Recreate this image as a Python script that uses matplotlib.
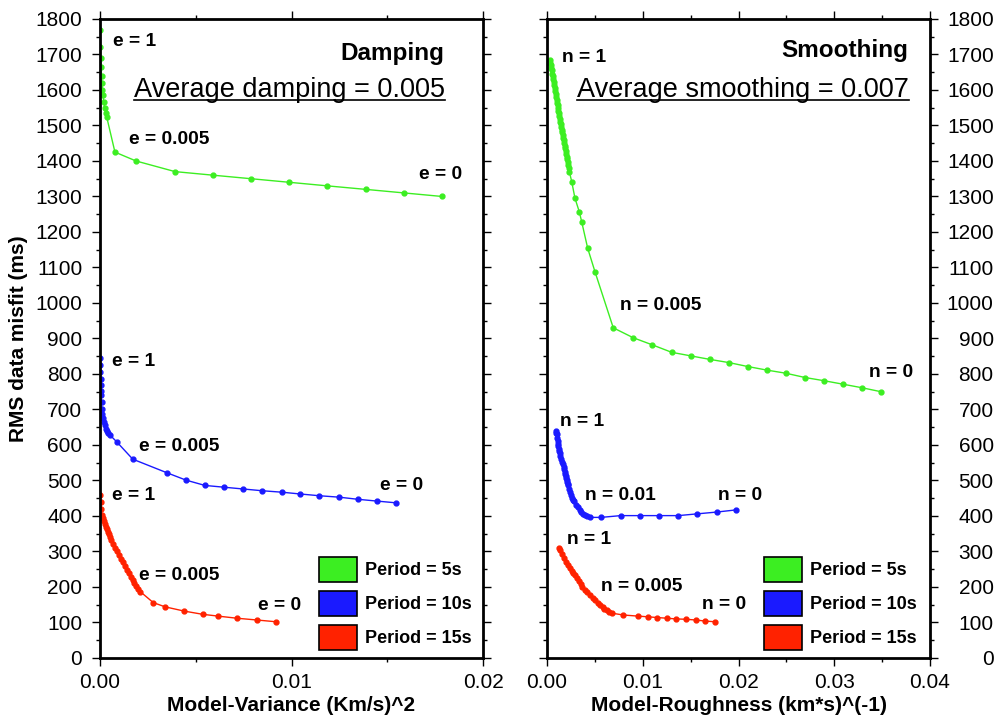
import matplotlib
matplotlib.use('Agg')
import matplotlib.pyplot as plt
from matplotlib.patches import Patch
from matplotlib.lines import Line2D
from matplotlib.ticker import MultipleLocator, FormatStrFormatter

plt.rcParams['font.family'] = ['Liberation Sans', 'DejaVu Sans']

# --- damping trade-off curves (model variance vs RMS misfit) ---
damp_5s_x = [0.0, 0.00002, 0.00004, 0.00006, 0.00008, 0.0001, 0.00013, 0.00016, 0.0002,
             0.00025, 0.0003, 0.00035, 0.00078, 0.00188, 0.00392, 0.00589, 0.00789,
             0.00987, 0.01185, 0.01387, 0.01587, 0.01786]
damp_5s_y = [1770, 1720, 1690, 1665, 1640, 1620, 1600, 1585, 1565, 1548, 1535, 1524, 1425,
             1400, 1370, 1360, 1350, 1340, 1330, 1320, 1310, 1300]

damp_10s_x = [0.0, 0.00001, 0.00002, 0.00003, 0.00004, 0.00005, 0.00006, 0.00008, 0.0001,
              0.00013, 0.00016, 0.0002, 0.00025, 0.0003, 0.00035, 0.0004, 0.00052, 0.00087,
              0.00171, 0.00348, 0.00449, 0.00548, 0.00648, 0.00748, 0.00848, 0.00949,
              0.01044, 0.01145, 0.01248, 0.01346, 0.01445, 0.01546]
damp_10s_y = [845, 825, 805, 785, 768, 752, 740, 720, 702, 688, 677, 665, 655, 646, 639, 634,
              628, 609, 560, 522, 501, 486, 481, 476, 471, 467, 462, 457, 453, 447, 442, 437]

damp_15s_x = [0.0, 0.00003, 0.00007, 0.0001, 0.00015, 0.0002, 0.00025, 0.0003, 0.00035,
              0.0004, 0.00045, 0.0005, 0.0006, 0.0007, 0.0008, 0.0009, 0.001, 0.0011, 0.0012,
              0.0013, 0.0014, 0.0015, 0.0016, 0.0017, 0.0018, 0.0019, 0.002, 0.0021,
              0.00278, 0.0034, 0.0044, 0.00536, 0.00615, 0.00714, 0.00818, 0.00919]
damp_15s_y = [459, 440, 420, 403, 394, 385, 377, 370, 362, 355, 348, 342, 332, 322, 311, 300,
              290, 280, 270, 258, 248, 238, 229, 220, 211, 202, 194, 187, 156, 144, 132, 123,
              118, 112, 107, 102]

# --- smoothing trade-off curves (model roughness vs RMS misfit) ---
smooth_5s_x = [0.0003, 0.00035, 0.0004, 0.00045, 0.0005, 0.00055, 0.0006, 0.00065, 0.0007,
               0.00075, 0.0008, 0.00085, 0.0009, 0.00095, 0.001, 0.00105, 0.0011, 0.00115,
               0.0012, 0.00125, 0.0013, 0.00135, 0.0014, 0.00145, 0.0015, 0.00155, 0.0016,
               0.00165, 0.0017, 0.00175, 0.0018, 0.00185, 0.0019, 0.00195, 0.002, 0.00205,
               0.0021, 0.00215, 0.0022, 0.00225, 0.00233, 0.00258, 0.00292, 0.00337, 0.00362,
               0.00425, 0.00501, 0.00692, 0.00901, 0.011, 0.01302, 0.01501, 0.01702, 0.01901,
               0.02096, 0.02294, 0.02496, 0.02695, 0.02893, 0.03095, 0.03293, 0.03488]
smooth_5s_y = [1685, 1677, 1670, 1662, 1655, 1646, 1638, 1630, 1622, 1613, 1605, 1597, 1589,
               1580, 1572, 1564, 1557, 1550, 1542, 1534, 1527, 1519, 1511, 1503, 1496, 1488,
               1481, 1473, 1466, 1458, 1451, 1443, 1436, 1428, 1420, 1412, 1405, 1397, 1390,
               1381, 1370, 1342, 1295, 1257, 1229, 1154, 1088, 930, 902, 882, 861, 851, 841,
               832, 821, 811, 802, 790, 781, 771, 761, 750]

smooth_10s_x = [0.00094, 0.00097, 0.001, 0.00105, 0.0011, 0.00115, 0.0012, 0.00125, 0.0013,
                0.00135, 0.0014, 0.0015, 0.0016, 0.0017, 0.00175, 0.0018, 0.00185, 0.0019,
                0.00195, 0.002, 0.00205, 0.0021, 0.00215, 0.0022, 0.0023, 0.0024, 0.0025,
                0.0026, 0.0027, 0.0028, 0.003, 0.0032, 0.0034, 0.0036, 0.0038, 0.004, 0.0042,
                0.0045, 0.00564, 0.0077, 0.00971, 0.0117, 0.01371, 0.0157, 0.01772, 0.01971]
smooth_10s_y = [640, 635, 630, 621, 612, 604, 596, 589, 582, 576, 570, 560, 552, 545, 538, 532,
                525, 519, 513, 507, 501, 496, 491, 486, 476, 467, 459, 452, 446, 441, 432, 424,
                417, 411, 406, 402, 399, 396, 396, 401, 401, 401, 401, 406, 411, 417]

smooth_15s_x = [0.00128, 0.0014, 0.0016, 0.0018, 0.002, 0.0022, 0.0024, 0.0026, 0.00275, 0.0029,
                0.0031, 0.0033, 0.0035, 0.0037, 0.004, 0.0042, 0.0045, 0.0048, 0.005, 0.0053,
                0.0055, 0.0058, 0.006, 0.0063, 0.0065, 0.00682, 0.00797, 0.00947, 0.01052,
                0.01146, 0.0125, 0.01347, 0.01449, 0.01553, 0.0165, 0.01755]
smooth_15s_y = [311, 304, 293, 281, 270, 261, 253, 245, 239, 233, 224, 216, 208, 201, 191, 186,
                177, 168, 163, 155, 150, 143, 139, 134, 130, 126, 121, 118, 116, 114, 112, 110,
                109, 107, 104, 102]

periods = ['Period = 5s', 'Period = 10s', 'Period = 15s']
colors = ['#3cee22', '#1a1aff', '#ff2200']

# curve labels: (text, x, y)
damp_labels = [('e = 1', 0.00066, 1736), ('e = 0.005', 0.00153, 1461), ('e = 0', 0.01668, 1363),
               ('e = 1', 0.00064, 835), ('e = 0.005', 0.00205, 597), ('e = 0', 0.01462, 487),
               ('e = 1', 0.00064, 457), ('e = 0.005', 0.00205, 231), ('e = 0', 0.00823, 149)]
smooth_labels = [('n = 1', 0.00154, 1692), ('n = 0.005', 0.00762, 994), ('n = 0', 0.03366, 805),
                 ('n = 1', 0.00136, 665), ('n = 0.01', 0.00397, 459), ('n = 0', 0.01789, 459),
                 ('n = 1', 0.00206, 335), ('n = 0.005', 0.00561, 201), ('n = 0', 0.01622, 151)]

fig = plt.figure(figsize=(9.98, 7.24), dpi=100)
ax1 = fig.add_axes([0.1002, 0.0912, 0.3838, 0.8826])
ax2 = fig.add_axes([0.5481, 0.0912, 0.3838, 0.8826])


def style_axes(ax, xmax, right_labels):
    ax.set_xlim(0, xmax)
    ax.set_ylim(0, 1800)
    ax.xaxis.set_major_locator(MultipleLocator(0.01))
    ax.xaxis.set_minor_locator(MultipleLocator(0.005))
    ax.yaxis.set_major_locator(MultipleLocator(100))
    ax.yaxis.set_minor_locator(MultipleLocator(50))
    ax.xaxis.set_major_formatter(FormatStrFormatter('%.2f'))
    ax.tick_params(which='both', direction='out', top=True, right=True, width=1, labelsize=15)
    ax.tick_params(which='major', length=5.8)
    ax.tick_params(which='minor', length=3)
    ax.tick_params(axis='x', which='major', pad=5)
    if right_labels:
        ax.tick_params(axis='y', labelleft=False, labelright=True, pad=40)
        for tk in ax.yaxis.get_major_ticks():
            tk.label2.set_horizontalalignment('right')
    else:
        ax.tick_params(axis='y', pad=7)
    for sp in ax.spines.values():
        sp.set_linewidth(2)


def draw_curves(ax, series, labels):
    for (xs, ys), c in zip(series, colors):
        ax.plot(xs, ys, '-', color=c, lw=1.0, marker='o', ms=3.5, mec=c, mfc=c)
    for txt, x, y in labels:
        ax.text(x, y, txt, fontsize=13.8, fontweight='bold', ha='left', va='center')
    handles = [Patch(facecolor=c, edgecolor='black', lw=1.2) for c in colors]
    return handles


h = draw_curves(ax1, [(damp_5s_x, damp_5s_y), (damp_10s_x, damp_10s_y), (damp_15s_x, damp_15s_y)],
                damp_labels)
draw_curves(ax2, [(smooth_5s_x, smooth_5s_y), (smooth_10s_x, smooth_10s_y),
                  (smooth_15s_x, smooth_15s_y)], smooth_labels)

style_axes(ax1, 0.02, False)
style_axes(ax2, 0.04, True)

ax1.set_xlabel('Model-Variance (Km/s)^2', fontsize=15, fontweight='bold', labelpad=3)
ax2.set_xlabel('Model-Roughness (km*s)^(-1)', fontsize=15, fontweight='bold', labelpad=3)
ax1.set_ylabel('RMS data misfit (ms)', fontsize=15, fontweight='bold', labelpad=5)

for ax, anchor in [(ax1, (0.572, 0.0125)), (ax2, (0.567, 0.0125))]:
    ax.legend(h, periods, loc='lower left', bbox_to_anchor=anchor, frameon=False,
              prop={'weight': 'bold', 'size': 13}, handlelength=2.1, handleheight=1.75,
              labelspacing=0.5, handletextpad=0.44, borderpad=0, borderaxespad=0)

ax1.text(0.898, 0.936, 'Damping', transform=ax1.transAxes, fontsize=17.5, fontweight='bold',
         ha='right', va='baseline')
ax2.text(0.943, 0.94, 'Smoothing', transform=ax2.transAxes, fontsize=17.5, fontweight='bold',
         ha='right', va='baseline')
avg1 = ax1.text(0.902, 0.878, 'Average damping = 0.005', transform=ax1.transAxes, fontsize=19.5,
                ha='right', va='baseline')
avg2 = ax2.text(0.945, 0.878, 'Average smoothing = 0.007', transform=ax2.transAxes, fontsize=19.5,
                ha='right', va='baseline')

# underline the two average labels
fig.canvas.draw()
renderer = fig.canvas.get_renderer()
for ax, t in [(ax1, avg1), (ax2, avg2)]:
    bb = t.get_window_extent(renderer)
    _, ybase = ax.transAxes.transform(t.get_position())
    inv = ax.transAxes.inverted()
    (x0, yu), (x1, _) = inv.transform([(bb.x0, ybase - 3), (bb.x1, ybase - 3)])
    ax.add_line(Line2D([x0, x1], [yu, yu], transform=ax.transAxes, color='black', lw=1.2,
                       clip_on=False))

fig.savefig('out.png', dpi=100)
